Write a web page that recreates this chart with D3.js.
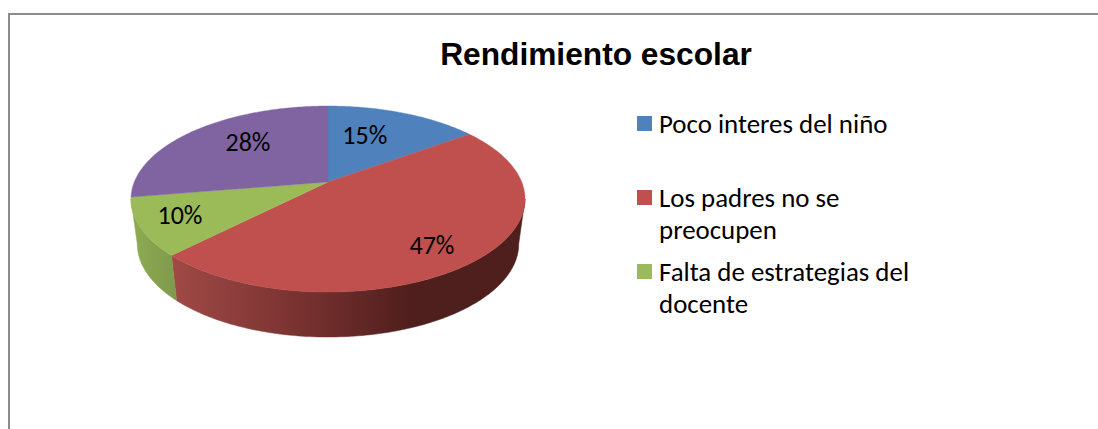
<!DOCTYPE html>
<html>
<head>
<meta charset="utf-8">
<script src="https://cdn.jsdelivr.net/npm/d3@7"></script>
<style>
html,body{margin:0;padding:0;background:#fff;overflow:hidden}
svg{display:block}
</style>
</head>
<body>
<svg id="chart" width="1098" height="429"></svg>
<script>
const chartTitle = "Rendimiento escolar";
const sliceValues = [15, 47.4, 10, 27.6];
const sliceLabels = ["15%", "47%", "10%", "28%"];
const topColors = ["#4f81bd", "#c0504d", "#9bbb59", "#8064a2"];
const legendLines = [["Poco interes del niño"], ["Los padres no se", "preocupen"], ["Falta de estrategias del", "docente"]];

const svg = d3.select("#chart");
const W = 1098, H = 429;

// Frame
svg.append("path").attr("d", `M9,${H}V14H${W}`).attr("fill", "none")
  .attr("stroke", "#8c8c8c").attr("stroke-width", 2);

// Title
svg.append("text").attr("x", 596).attr("y", 65).attr("text-anchor", "middle")
  .attr("font-family", "Liberation Sans").attr("font-weight", "bold")
  .attr("font-size", 31.7).attr("fill", "#000").text(chartTitle);

// Perspective projection of the unit disc onto the page
const cx = 328, cy = 182, A = 193.7, B = 89.9, w = 0.183, depth = 45, lowerScale = 0.968;
const project = (a, r = 1) => {
  const u = r * Math.sin(a), v = r * Math.cos(a), d = 1 + w * v;
  return [cx + A * u / d, cy - B * v / d];
};
const pie = d3.pie().sort(null).value(d => d);
const arcs = pie(sliceValues);
const line = d3.line();
const rim = (a0, a1) => {
  const n = Math.max(2, Math.ceil((a1 - a0) * 60));
  return d3.range(n + 1).map(i => project(a0 + (a1 - a0) * i / n));
};

const defs = svg.append("defs");
const mkGrad = (id, x1, x2, stops) => {
  const g = defs.append("linearGradient").attr("id", id)
    .attr("gradientUnits", "userSpaceOnUse")
    .attr("x1", x1).attr("x2", x2).attr("y1", 0).attr("y2", 0);
  stops.forEach(s => g.append("stop").attr("offset", s[0]).attr("stop-color", s[1]));
};
mkGrad("wall1", 170, 525, [[0, "#a04a47"], [0.35, "#7a3331"], [0.68, "#4f1f1d"], [1, "#4f1f1d"]]);
mkGrad("wall2", 131, 175, [[0, "#8fab52"], [1, "#7f9a4c"]]);

// Side wall: visible between the two horizontal extremes of the rim
const frontStart = Math.acos(-w), frontEnd = 2 * Math.PI - frontStart;
const wallIds = [null, "wall1", "wall2", null];
arcs.forEach((d, i) => {
  const a0 = Math.max(d.startAngle, frontStart), a1 = Math.min(d.endAngle, frontEnd);
  if (a1 <= a0 || !wallIds[i]) return;
  const pts = rim(a0, a1);
  const lower = pts.map(p => [cx + (p[0] - cx) * lowerScale, p[1] + depth]).reverse();
  svg.append("path").attr("d", line(pts.concat(lower)) + "Z")
    .attr("fill", `url(#${wallIds[i]})`)
    .attr("stroke", `url(#${wallIds[i]})`).attr("stroke-width", 0.5);
});

// Top face
arcs.forEach((d, i) => {
  const pts = [[cx, cy]].concat(rim(d.startAngle, d.endAngle));
  svg.append("path").attr("d", line(pts) + "Z")
    .attr("fill", topColors[i]).attr("stroke", topColors[i]).attr("stroke-width", 0.4);
});

// Data labels: radial fraction and angular nudge within each slice
const labelRadius = [0.615, 0.779, 0.793, 0.664];
const labelShift = [-7, 3, 2, 7];
const labelFont = "Carlito, Lato, 'Open Sans', sans-serif";
arcs.forEach((d, i) => {
  const mid = (d.startAngle + d.endAngle) / 2 + labelShift[i] * Math.PI / 180;
  const p = project(mid, labelRadius[i]);
  svg.append("text").attr("x", p[0]).attr("y", p[1]).attr("dy", "0.35em")
    .attr("text-anchor", "middle").attr("font-family", labelFont)
    .attr("font-size", 26).attr("fill", "#000").text(sliceLabels[i]);
});

// Legend
const legendY = d3.scalePoint().domain(d3.range(legendLines.length)).range([116, 264]);
const legend = svg.append("g");
legendLines.forEach((lines, i) => {
  const y = legendY(i);
  legend.append("rect").attr("x", 637).attr("y", y).attr("width", 15).attr("height", 15)
    .attr("fill", topColors[i]);
  lines.forEach((t, j) => {
    legend.append("text").attr("x", 659).attr("y", y + 17 + j * 32)
      .attr("font-family", labelFont).attr("font-size", 26.9).attr("fill", "#000").text(t);
  });
});
</script>
</body>
</html>
